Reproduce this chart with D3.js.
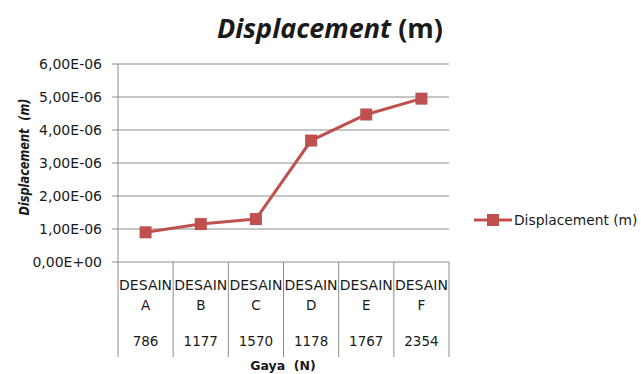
<!DOCTYPE html>
<html>
<head>
<meta charset="utf-8">
<script src="https://cdn.jsdelivr.net/npm/d3@7"></script>
<style>
  body { margin: 0; background: #fff; }
  svg text { font-family: "DejaVu Sans", sans-serif; fill: #1a1a1a; }
</style>
</head>
<body>
<div id="chart"></div>
<script>
const designs = ["A", "B", "C", "D", "E", "F"];
const forces = ["786", "1177", "1570", "1178", "1767", "2354"];
const displacement = [9.0e-7, 1.15e-6, 1.3e-6, 3.68e-6, 4.47e-6, 4.95e-6];
const yTicks = [0, 1e-6, 2e-6, 3e-6, 4e-6, 5e-6, 6e-6];

const width = 641, height = 374;
const margin = { top: 64, left: 118, right: 192, bottom: 112 };
const innerWidth = width - margin.left - margin.right;
const innerHeight = height - margin.top - margin.bottom;
const lineColor = "#C0504D";
const gridColor = "#8c8c8c";

const svg = d3.select("#chart").append("svg")
  .attr("width", width).attr("height", height);

const g = svg.append("g").attr("transform", `translate(${margin.left},${margin.top})`);

const x = d3.scaleBand().domain(designs).range([0, innerWidth]).padding(0);
const y = d3.scaleLinear().domain([0, 6e-6]).range([innerHeight, 0]);

// Excel-style "6,00E-06" labels
const fmt = (v) => {
  const [m, e] = v.toExponential(2).split("e");
  const exp = Number(e);
  return m.replace(".", ",") + "E" + (exp < 0 ? "-" : "+") + String(Math.abs(exp)).padStart(2, "0");
};

// horizontal grid lines
g.append("g")
  .selectAll("line")
  .data(yTicks)
  .join("line")
  .attr("x1", -6).attr("x2", innerWidth)
  .attr("y1", (d) => y(d)).attr("y2", (d) => y(d))
  .attr("stroke", gridColor).attr("stroke-width", 1);

// y tick labels
g.append("g")
  .selectAll("text")
  .data(yTicks)
  .join("text")
  .attr("x", -16).attr("y", (d) => y(d))
  .attr("dy", "0.36em")
  .attr("text-anchor", "end")
  .style("font-size", "14px")
  .text(fmt);

// category table lines below the axis
const tableBottom = innerHeight + 95;
const bounds = designs.map((d) => x(d)).concat([innerWidth]);
g.append("g")
  .selectAll("line")
  .data(bounds)
  .join("line")
  .attr("x1", (d) => d).attr("x2", (d) => d)
  .attr("y1", (d, i) => (i === 0 ? 0 : innerHeight))
  .attr("y2", tableBottom)
  .attr("stroke", gridColor).attr("stroke-width", 1);

// category labels
const cat = g.append("g")
  .selectAll("g")
  .data(designs)
  .join("g")
  .attr("transform", (d) => `translate(${x(d) + x.bandwidth() / 2},${innerHeight})`);
cat.append("text").attr("y", 28).attr("text-anchor", "middle").style("font-size", "13.5px")
  .attr("textLength", 53).attr("lengthAdjust", "spacingAndGlyphs").text("DESAIN");
cat.append("text").attr("y", 48).attr("text-anchor", "middle").style("font-size", "13.5px").text((d) => d);
cat.append("text").attr("y", 84).attr("text-anchor", "middle").style("font-size", "13.5px")
  .text((d, i) => forces[i]);

// series line
const line = d3.line()
  .x((d, i) => x(designs[i]) + x.bandwidth() / 2)
  .y((d) => y(d));

g.append("path")
  .datum(displacement)
  .attr("fill", "none")
  .attr("stroke", lineColor)
  .attr("stroke-width", 3)
  .attr("d", line);

const ms = 12;
g.selectAll(".marker")
  .data(displacement)
  .join("rect")
  .attr("class", "marker")
  .attr("x", (d, i) => x(designs[i]) + x.bandwidth() / 2 - ms / 2)
  .attr("y", (d) => y(d) - ms / 2)
  .attr("width", ms).attr("height", ms)
  .attr("fill", lineColor);

// title
const title = svg.append("text")
  .attr("x", 330).attr("y", 38)
  .attr("text-anchor", "middle")
  .style("font-family", "'Open Sans', sans-serif")
  .style("font-size", "27px").style("font-weight", "bold");
title.append("tspan").style("font-style", "italic").text("Displacement");
title.append("tspan").text(" (m)");

// axis titles
svg.append("text")
  .attr("transform", "translate(29,157) rotate(-90)")
  .attr("text-anchor", "middle")
  .attr("textLength", 117).attr("lengthAdjust", "spacingAndGlyphs")
  .style("font-size", "14px").style("font-weight", "bold").style("font-style", "italic")
  .text("Displacement\u00a0\u00a0(m)");

svg.append("text")
  .attr("x", 283).attr("y", 370)
  .attr("text-anchor", "middle")
  .style("font-size", "12.5px").style("font-weight", "bold")
  .text("Gaya\u00a0\u00a0(N)");

// legend
const lg = svg.append("g").attr("transform", "translate(474,220)");
lg.append("line").attr("x1", 0).attr("x2", 38).attr("y1", 0).attr("y2", 0)
  .attr("stroke", lineColor).attr("stroke-width", 3);
lg.append("rect").attr("x", 19 - ms / 2).attr("y", -ms / 2).attr("width", ms).attr("height", ms)
  .attr("fill", lineColor);
lg.append("text").attr("x", 40).attr("y", 0).attr("dy", "0.36em")
  .style("font-size", "13.8px").text("Displacement (m)");
</script>
</body>
</html>
